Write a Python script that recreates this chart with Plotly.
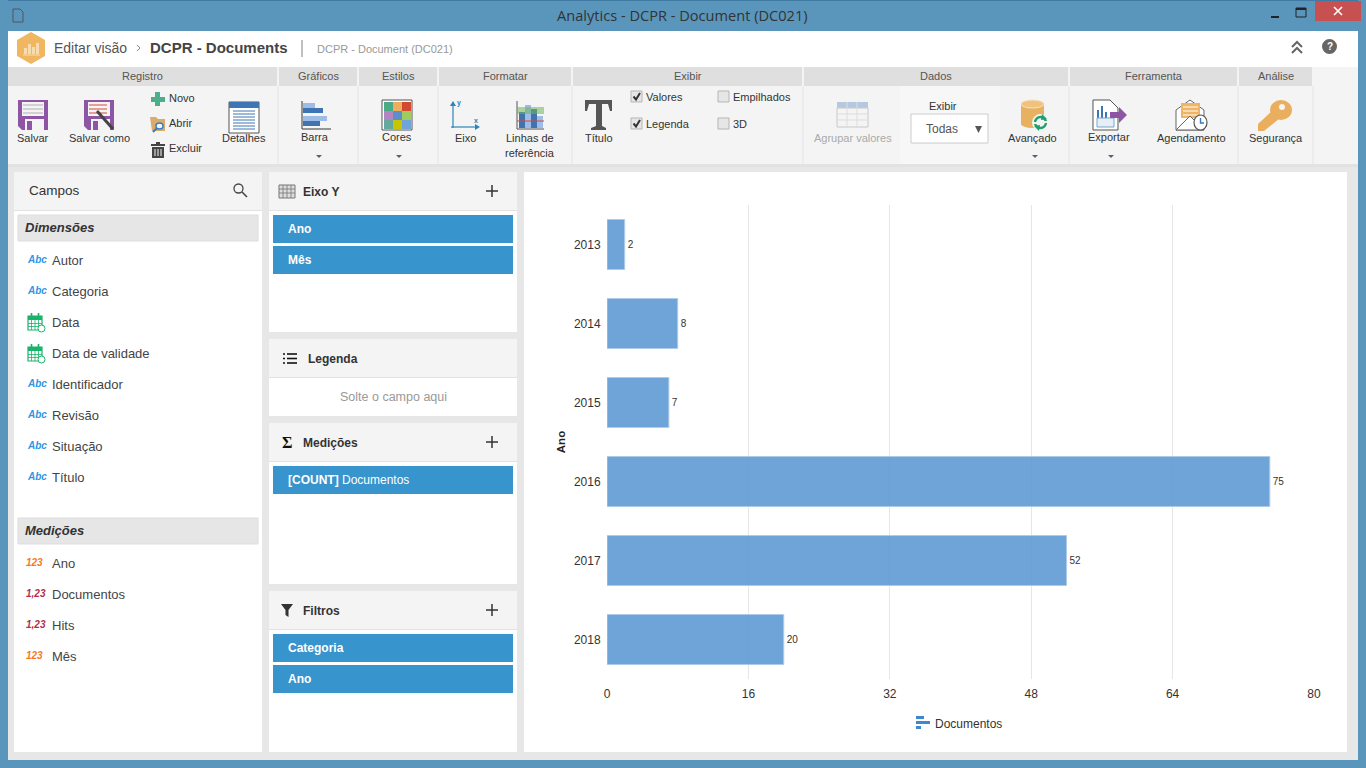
import plotly.graph_objects as go

W, H = 1366, 768
PL, PR, PT, PB = 607, 52, 205, 89  # plot margins

# chart data
anos = ['2013', '2014', '2015', '2016', '2017', '2018']
documentos = [2, 8, 7, 75, 52, 20]
x_ticks = [0, 16, 32, 48, 64, 80]

# side panel texts
dimensoes = ['Autor', 'Categoria', 'Data', 'Data de validade', 'Identificador', 'Revisão', 'Situação', 'Título']
dim_tipos = ['abc', 'abc', 'cal', 'cal', 'abc', 'abc', 'abc', 'abc']
medicoes = ['Ano', 'Documentos', 'Hits', 'Mês']
med_tipos = ['123', '1,23', '1,23', '123']

FONT = 'Liberation Sans'
BLUE = '#3794cc'
WIN = '#5a96bb'
GREY = '#333333'

shapes = []
notes = []


# paper coordinates are relative to the plot area, the app chrome is laid out in page pixels
def X(x):
    return (x - PL) / (W - PL - PR)


def Y(y):
    return (H - PB - y) / (H - PT - PB)


def box(x0, y0, x1, y1, fill, line=None, lw=1):
    shapes.append(dict(type='rect', xref='paper', yref='paper', layer='below',
                       x0=X(x0), x1=X(x1), y0=Y(y0), y1=Y(y1), fillcolor=fill,
                       line=dict(color=line or fill, width=lw if line else 0)))


def seg(x0, y0, x1, y1, color, lw=1):
    shapes.append(dict(type='line', xref='paper', yref='paper', layer='below',
                       x0=X(x0), x1=X(x1), y0=Y(y0), y1=Y(y1), line=dict(color=color, width=lw)))


def circ(x0, y0, x1, y1, fill, line=None, lw=1):
    shapes.append(dict(type='circle', xref='paper', yref='paper', layer='below',
                       x0=X(x0), x1=X(x1), y0=Y(y0), y1=Y(y1), fillcolor=fill,
                       line=dict(color=line or fill, width=lw if line else 0)))


def poly(pts, fill=None, line=None, lw=1, closed=True):
    d = 'M' + ' L'.join(f'{X(a):.5f},{Y(b):.5f}' for a, b in pts) + (' Z' if closed else '')
    shapes.append(dict(type='path', xref='paper', yref='paper', layer='below', path=d,
                       fillcolor=fill if fill else 'rgba(0,0,0,0)',
                       line=dict(color=line or 'rgba(0,0,0,0)', width=lw if line else 0)))


def txt(x, y, s, size=12, color=GREY, anchor='center', family=FONT):
    if anchor == 'left':
        x -= 1
    notes.append(dict(x=X(x), y=Y(y), xref='paper', yref='paper', text=s, showarrow=False,
                      xanchor=anchor, yanchor='middle', borderpad=0,
                      font=dict(size=size, color=color, family=family)))


def drop_arrow(x, y=157):
    poly([(x - 3, y - 2), (x + 3, y - 2), (x, y + 1)], '#56607a')


# window frame and page
box(0, 0, W, 31, WIN)
box(0, 0, W, 1, '#3f7aa3')
box(0, 0, 8, H, WIN)
box(1358, 0, W, H, WIN)
box(0, 760, W, H, WIN)
poly([(13, 9), (20, 9), (23, 12), (23, 22), (13, 22)], None, '#555555', 1)
txt(682.5, 15.5, 'Analytics - DCPR - Document (DC021)', 14.6, '#333333', family='Open Sans')
box(1315, 1, 1361, 21, '#c75050')
seg(1334, 7, 1342, 15, 'white', 1.6)
seg(1342, 7, 1334, 15, 'white', 1.6)
box(1296, 8, 1306, 17, 'rgba(0,0,0,0)', '#222222', 1)
seg(1296, 9, 1306, 9, '#222222', 2)
seg(1271, 17, 1279, 17, '#222222', 2)

# header strip
box(8, 31, 1358, 67, 'white')
poly([(31, 32), (45, 40), (45, 56), (31, 64), (17, 56), (17, 40)], '#f1b661')
for bx, bt in [(24, 48), (28, 44), (32, 47), (36, 43)]:
    box(bx, bt, bx + 3, 54, '#f9dcae')
seg(23, 55, 40, 55, '#f9dcae', 1)
txt(54, 48, 'Editar visão', 14, '#555555', 'left')
poly([(137, 45), (140, 48), (137, 51)], None, '#888888', 1, closed=False)
txt(150, 48, '<b>DCPR - Documents</b>', 15, '#444444', 'left')
seg(302, 40, 302, 57, '#aaaaaa', 1.5)
txt(317, 49, 'DCPR - Document (DC021)', 11, '#999999', 'left')
poly([(1292, 47), (1297, 42), (1302, 47)], None, '#666666', 2, closed=False)
poly([(1292, 53), (1297, 48), (1302, 53)], None, '#666666', 2, closed=False)
circ(1322, 39, 1337, 54, '#666666')
txt(1329.5, 46.5, '<b>?</b>', 10, 'white')

# ribbon
box(8, 67, 1358, 164, '#f4f4f4')
box(8, 164, 1358, 167, '#e2e2e2')
box(8, 167, 1358, 760, '#e7e7e7')
grupos = [('Registro', 8, 277), ('Gráficos', 279, 357), ('Estilos', 359, 437), ('Formatar', 439, 571),
          ('Exibir', 573, 802), ('Dados', 804, 1068), ('Ferramenta', 1070, 1237), ('Análise', 1239, 1312)]
for nome, a, b in grupos:
    box(a, 67, b, 86, '#dfdfdf')
    seg(b + 1, 86, b + 1, 164, '#e4e4e4', 1)
    txt((a + b) / 2, 76, nome, 11, '#555555')

# Registro
PURPLE = '#8e55a5'
for x0 in (18, 84):
    poly([(x0, 100), (x0 + 30, 100), (x0 + 30, 130), (x0 + 4, 130), (x0, 126)], PURPLE)
    box(x0 + 4, 102, x0 + 26, 116, '#f4f4f4')
    box(x0 + 7, 119, x0 + 26, 130, '#f4f4f4')
    box(x0 + 9, 121, x0 + 14, 130, PURPLE)
for yy in (105, 109, 113):
    seg(23, yy, 43, yy, '#b0b0b0', 1)
    seg(89, yy, 107, yy, '#d9483b', 1)
seg(97, 111, 113, 129, '#444444', 3)
txt(33, 138, 'Salvar', 11)
txt(99.5, 138, 'Salvar como', 11)
box(155, 92, 160, 106, '#4dae8a')
box(151, 97, 165, 102, '#4dae8a')
txt(169, 98, 'Novo', 11, anchor='left')
poly([(150, 117), (156, 117), (158, 119), (165, 119), (165, 131), (152, 131)], '#d9ab6c')
circ(156, 123, 163, 129, '#f4f4f4', '#3a7ec2', 1.5)
seg(157, 128, 153, 132, '#3a7ec2', 2)
txt(169, 123, 'Abrir', 11, anchor='left')
box(151, 144, 165, 146, '#444444')
box(156, 142, 160, 144, '#444444')
box(152, 147, 164, 158, '#444444')
for bx in (155, 158, 161):
    seg(bx, 149, bx, 156, '#f4f4f4', 1)
txt(169, 148, 'Excluir', 11, anchor='left')
box(229, 102, 259, 133, 'white', '#555555', 1)
box(229, 102, 259, 108, '#3e76b3')
for yy in range(111, 132, 3):
    seg(233, yy, 255, yy, '#3e76b3', 1)
txt(244, 138, 'Detalhes', 11)

# Gráficos
seg(302, 101, 302, 129, '#555555', 1.2)
seg(302, 129, 331, 129, '#555555', 1.2)
for top, wd, cor in [(103, 12, '#9dbde6'), (108, 20, '#3f74b0'), (116, 24, '#9dbde6'), (121, 17, '#3f74b0')]:
    box(303, top, 303 + wd, top + 5, cor)
txt(315, 137, 'Barra', 11)
drop_arrow(319)

# Estilos
box(382, 100, 412, 130, 'white', '#555555', 1)
cores = ['#4bab87', '#eeae5c', '#d2492f', '#b584c3', '#5d8ec7', '#9fcb5f', '#65a99e', '#c9c400', '#6fa4d8']
for i, c in enumerate(cores):
    box(384 + (i % 3) * 9, 102 + (i // 3) * 9, 393 + (i % 3) * 9, 111 + (i // 3) * 9, c)
txt(397, 137, 'Cores', 11)
drop_arrow(399)

# Formatar
seg(453, 103, 453, 128, '#2a86b8', 1.2)
seg(451, 127, 478, 127, '#2a86b8', 1.2)
poly([(450, 106), (453, 101), (456, 106)], '#2a86b8')
poly([(475, 124), (480, 127), (475, 130)], '#2a86b8')
txt(459, 103, '<b>y</b>', 7, '#2a86b8')
txt(476, 121, '<b>x</b>', 7, '#2a86b8')
txt(465, 138, 'Eixo', 11)
seg(517, 101, 517, 129, '#555555', 1)
seg(517, 129, 544, 129, '#555555', 1)
box(519, 112, 525, 128, '#3f74b0')
box(525, 105, 531, 128, '#9dbde6')
box(531, 109, 537, 128, '#3f74b0')
box(537, 116, 543, 128, '#9dbde6')
box(517, 107, 544, 114, 'rgba(110,180,90,0.55)')
seg(517, 121, 544, 121, '#d9483b', 1)
txt(530, 138, 'Linhas de', 11)
txt(530, 153, 'referência', 11)

# Exibir, the big T is an icon
poly([(585, 100), (612, 100), (612, 111), (610, 111), (608, 104), (602, 104), (602, 126), (606, 128), (606, 130),
      (591, 130), (591, 128), (596, 126), (596, 104), (589, 104), (587, 111), (585, 111)], '#555555')
txt(599, 138, 'Título', 11)
for bx, by, marcado, nome in [(631, 91, True, 'Valores'), (631, 118, True, 'Legenda'),
                              (718, 91, False, 'Empilhados'), (718, 118, False, '3D')]:
    box(bx, by, bx + 11, by + 11, '#e6e6e6', '#b5b5b5', 1)
    if marcado:
        poly([(bx + 2.5, by + 5.5), (bx + 5, by + 8.5), (bx + 9, by + 2)], None, '#333333', 2, closed=False)
    txt(bx + 15, by + 6, nome, 11, anchor='left')

# Dados
box(900, 86, 1000, 164, '#f7f7f7')
box(837, 102, 868, 108, '#b4c9e0')
box(837, 108, 868, 127, '#f4f4f4', '#c8c8c8', 1)
for yy in (114, 120):
    seg(837, yy, 868, yy, '#dddddd', 1)
for xx in (847, 857):
    seg(xx, 102, xx, 127, '#dddddd', 1)
txt(852.5, 138, 'Agrupar valores', 11, '#aaaaaa')
txt(943, 106, 'Exibir', 11)
box(911, 114, 988, 143, 'white', '#cccccc', 1)
txt(942, 128.5, 'Todas', 12, '#555555')
poly([(975, 126), (982, 126), (978.5, 133)], '#555555')
box(1021, 104, 1044, 124, '#e8b15f')
circ(1021, 100, 1044, 108, '#f0c27e', '#f7e3c3', 1)
circ(1021, 120, 1044, 128, '#e8b15f')
circ(1032, 114, 1049, 131, '#f4f4f4')
circ(1035, 117, 1046, 128, 'rgba(0,0,0,0)', '#22a06b', 2.4)
box(1033, 122, 1037, 124, '#f4f4f4')
box(1044, 121, 1048, 123, '#f4f4f4')
poly([(1042, 114), (1047, 119), (1041, 120)], '#22a06b')
poly([(1039, 131), (1034, 126), (1040, 125)], '#22a06b')
txt(1032.5, 138, 'Avançado', 11)
drop_arrow(1035)

# Ferramenta
poly([(1093, 100), (1110, 100), (1118, 108), (1118, 130), (1093, 130)], 'white', '#555555', 1)
box(1097, 110, 1099, 123, '#3e76b3')
box(1101, 106, 1103, 123, '#3e76b3')
box(1105, 112, 1107, 123, '#3e76b3')
box(1097, 118, 1114, 127, '#e6eef6', '#7fa2c8', 1)
poly([(1110, 112), (1119, 112), (1119, 107), (1127, 115), (1119, 123), (1119, 118), (1110, 118)], PURPLE)
txt(1109, 137, 'Exportar', 11)
drop_arrow(1111)
poly([(1176, 110), (1190, 100), (1204, 110), (1204, 130), (1176, 130)], 'white', '#666666', 1)
box(1181, 103, 1200, 118, '#efb565')
for yy in (107, 111, 115):
    seg(1183, yy, 1198, yy, 'white', 1)
poly([(1176, 130), (1190, 116), (1204, 130)], 'white', '#666666', 1)
circ(1194, 115, 1207, 130, 'white', '#555555', 1.2)
poly([(1200.5, 118), (1200.5, 123), (1204, 123)], None, '#3e76b3', 1.4, closed=False)
txt(1191.5, 138, 'Agendamento', 11)

# Análise
circ(1270, 100, 1292, 120, '#e9ae5e')
circ(1279, 104, 1285, 110, '#f4f4f4')
poly([(1273, 110), (1280, 118), (1264, 131), (1258, 131), (1258, 124)], '#e9ae5e')
txt(1275.5, 138, 'Segurança', 11)

# panels
box(14, 172, 262, 752, 'white')
box(14, 172, 262, 210, '#f4f4f4')
seg(14, 210.5, 262, 210.5, '#e2e2e2', 1)
txt(29, 190, 'Campos', 13.5, '#333333', 'left')
circ(234, 184, 243, 193, 'rgba(0,0,0,0)', '#444444', 1.3)
seg(242, 192, 247, 197, '#444444', 1.6)
box(18, 215, 258, 241, '#e6e6e6', '#dddddd', 1)
txt(25, 227.5, '<b><i>Dimensões</i></b>', 13, '#333333', 'left')
box(18, 518, 258, 544, '#e6e6e6', '#dddddd', 1)
txt(25, 530.5, '<b><i>Medições</i></b>', 13, '#333333', 'left')


def calendar(x, y):
    box(x, y - 6, x + 14, y + 8, 'white', '#19b36b', 1.2)
    box(x, y - 6, x + 14, y - 2, '#19b36b')
    for xx in (x + 3.5, x + 7, x + 10.5):
        seg(xx, y - 2, xx, y + 8, '#19b36b', 0.8)
    for yy in (y + 1.5, y + 4.5):
        seg(x, yy, x + 14, yy, '#19b36b', 0.8)
    seg(x + 3.5, y - 9, x + 3.5, y - 5, '#19b36b', 1.6)
    seg(x + 10.5, y - 9, x + 10.5, y - 5, '#19b36b', 1.6)
    circ(x + 10, y + 3, x + 17, y + 10, 'white', '#19b36b', 1)


for i, (nome, tipo) in enumerate(zip(dimensoes, dim_tipos)):
    yy = 260 + i * 31
    if tipo == 'abc':
        txt(27, yy - 1, '<b><i>Abc</i></b>', 10, '#2e95e6', 'left')
    else:
        calendar(28, yy)
    txt(52, yy, nome, 13, '#444444', 'left')

for i, (nome, tipo) in enumerate(zip(medicoes, med_tipos)):
    yy = 563 + i * 31
    txt(26, yy - 1, f'<b><i>{tipo}</i></b>', 10, '#f37a1f' if tipo == '123' else '#b0304a', 'left')
    txt(52, yy, nome, 13, '#444444', 'left')

for y0, y1, hd, nome, tx in [(172, 332, 210, 'Eixo Y', 303), (339, 416, 377, 'Legenda', 308),
                             (423, 584, 461, 'Medições', 303), (591, 752, 629, 'Filtros', 303)]:
    box(269, y0, 517, y1, 'white')
    box(269, y0, 517, hd, '#f4f4f4')
    seg(269, hd + 0.5, 517, hd + 0.5, '#e2e2e2', 1)
    txt(tx, (y0 + hd) / 2 + 0.5, f'<b>{nome}</b>', 12, '#333333', 'left')
    if nome != 'Legenda':
        seg(492, (y0 + hd) / 2 - 6, 492, (y0 + hd) / 2 + 6, '#333333', 1.5)
        seg(486, (y0 + hd) / 2, 498, (y0 + hd) / 2, '#333333', 1.5)

box(279, 185, 295, 198, '#dddddd', '#777777', 1)
for xx in (283, 287, 291):
    seg(xx, 185, xx, 198, '#777777', 0.8)
for yy in (189, 193):
    seg(279, yy, 295, yy, '#777777', 0.8)
for yy in (354, 358.5, 363):
    seg(283, yy, 285, yy, '#111111', 1.6)
    seg(287, yy, 297, yy, '#111111', 1.6)
txt(287, 442, '<b>Σ</b>', 16, '#111111', family='Liberation Serif')
poly([(281, 604), (293, 604), (288.5, 610), (288.5, 617), (285.5, 615), (285.5, 610)], '#333333')

for x_txt, y0, y1, s in [(288, 215, 243, '<b>Ano</b>'), (288, 246, 274, '<b>Mês</b>'),
                         (288, 466, 494, '<b>[COUNT]</b> Documentos'),
                         (288, 634, 662, '<b>Categoria</b>'), (288, 665, 693, '<b>Ano</b>')]:
    box(273, y0, 513, y1, BLUE)
    txt(x_txt, (y0 + y1) / 2, s, 12, 'white', 'left')
txt(393, 397, 'Solte o campo aqui', 12.5, '#999999')

# chart panel
box(524, 172, 1347, 752, 'white')

# legend mark
box(916, 716, 924, 719, '#3f87cf')
box(916, 721, 930, 724, '#3f87cf')
box(916, 726, 921, 729, '#3f87cf')
txt(935, 723.5, 'Documentos', 12, '#333333', 'left')

fig = go.Figure(go.Bar(
    y=anos, x=documentos, orientation='h', name='Documentos',
    marker=dict(color='rgba(86,148,209,0.85)', line=dict(color='#aecbe8', width=1)),
    text=documentos, textposition='outside', cliponaxis=False,
    textfont=dict(size=10, color='#333333', family=FONT),
    hovertemplate='%{y}: %{x}<extra></extra>',
))

fig.update_layout(
    width=W, height=H, autosize=False,
    margin=dict(l=PL, r=PR, t=PT, b=PB),
    paper_bgcolor='#e7e7e7', plot_bgcolor='rgba(0,0,0,0)',
    bargap=0.367, showlegend=False,
    font=dict(family=FONT, size=12, color=GREY),
    shapes=shapes, annotations=notes,
)
fig.update_xaxes(range=[0, 80], tickvals=x_ticks, showgrid=True, gridcolor='#e6e6e6', gridwidth=1,
                 zeroline=False, showline=False, ticks='outside', ticklen=4, tickcolor='rgba(0,0,0,0)',
                 tickfont=dict(size=12, color=GREY, family=FONT))
fig.update_yaxes(type='category', autorange='reversed', showgrid=False, zeroline=False, showline=False,
                 ticks='outside', ticklen=3, tickcolor='rgba(0,0,0,0)',
                 tickfont=dict(size=12, color=GREY, family=FONT),
                 title=dict(text='<b>Ano</b>', standoff=5, font=dict(size=11.5, color='#222222', family=FONT)))

fig.write_html("out.html", config=dict(displayModeBar=False),
               post_script="document.body.style.margin='0';document.body.style.overflow='hidden';")
